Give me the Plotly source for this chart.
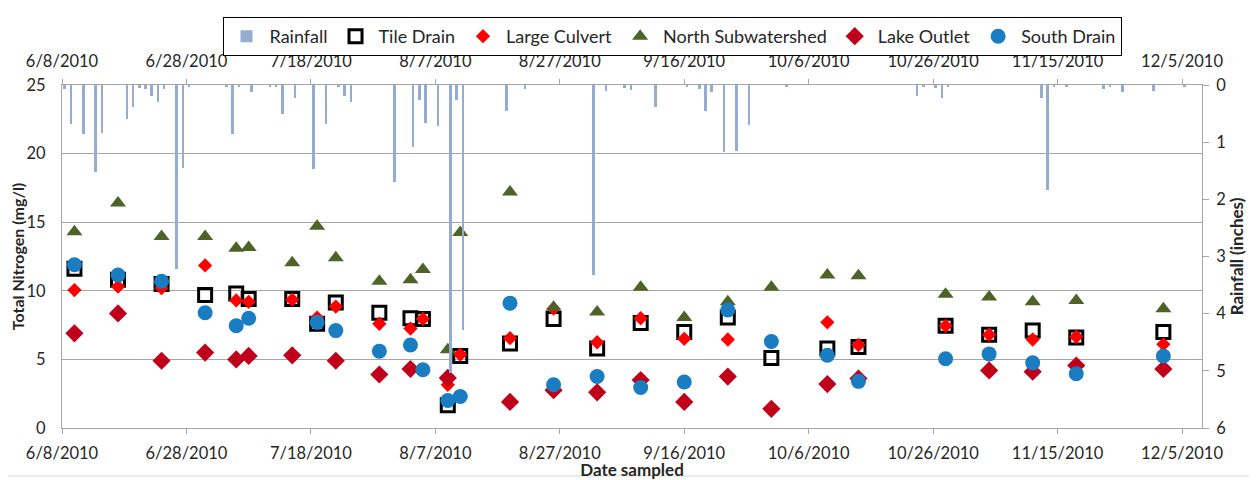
import plotly.graph_objects as go
import pandas as pd

# ---------------- data ----------------
sample_dates = ["2010-06-10", "2010-06-17", "2010-06-24", "2010-07-01", "2010-07-06",
                "2010-07-08", "2010-07-15", "2010-07-19", "2010-07-22", "2010-07-29",
                "2010-08-03", "2010-08-05", "2010-08-09", "2010-08-11", "2010-08-19",
                "2010-08-26", "2010-09-02", "2010-09-09", "2010-09-16", "2010-09-23",
                "2010-09-30", "2010-10-09", "2010-10-14", "2010-10-28", "2010-11-04",
                "2010-11-11", "2010-11-18", "2010-12-02"]

tile_drain = [11.6, 10.8, 10.5, 9.7, 9.8, 9.4, 9.4, 7.6, 9.15, 8.4, 8.0, 7.95, 1.65, 5.25,
              6.15, 7.95, 5.8, 7.65, 7.0, 8.05, 5.1, 5.8, 5.9, 7.45, 6.8, 7.1, 6.6, 7.0]
large_culvert = [10.05, 10.3, 10.2, 11.85, 9.3, 9.2, 9.35, 8.05, 8.85, 7.6, 7.25, 7.95, 3.15,
                 5.35, 6.55, 8.7, 6.25, 8.0, 6.5, 6.45, None, 7.7, 6.05, 7.45, 6.8, 6.45, 6.65, 6.1]
north_sub = [14.3, 16.4, 13.95, 13.95, 13.1, 13.15, 12.05, 14.7, 12.4, 10.7, 10.8, 11.55, 5.7,
             14.25, 17.2, 8.8, 8.45, 10.25, 8.05, 9.2, 10.25, 11.15, 11.1, 9.75, 9.55, 9.2, 9.3, 8.7]
lake_outlet = [6.9, 8.35, 4.9, 5.5, 5.0, 5.25, 5.3, None, 4.9, 3.9, 4.3, None, 3.65, None,
               1.9, 2.75, 2.6, 3.5, 1.9, 3.75, 1.4, 3.2, 3.6, None, 4.2, 4.1, 4.55, 4.3]
south_drain = [11.9, 11.15, 10.7, 8.4, 7.45, 8.0, None, 7.7, 7.1, 5.6, 6.05, 4.25, 2.0, 2.3,
               9.1, 3.15, 3.75, 2.95, 3.35, 8.6, 6.3, 5.3, 3.4, 5.05, 5.4, 4.75, 3.95, 5.25]

rain_dates = ["2010-06-08", "2010-06-09", "2010-06-11", "2010-06-13", "2010-06-14",
              "2010-06-18", "2010-06-19", "2010-06-20", "2010-06-21", "2010-06-22",
              "2010-06-23", "2010-06-24", "2010-06-26", "2010-06-27", "2010-06-28",
              "2010-07-04", "2010-07-05", "2010-07-06", "2010-07-08", "2010-07-11",
              "2010-07-12", "2010-07-13", "2010-07-15", "2010-07-18", "2010-07-20",
              "2010-07-22", "2010-07-23", "2010-07-24", "2010-07-31", "2010-08-03",
              "2010-08-04", "2010-08-05", "2010-08-07", "2010-08-09", "2010-08-10",
              "2010-08-11", "2010-08-18", "2010-08-21", "2010-09-01", "2010-09-03",
              "2010-09-06", "2010-09-07", "2010-09-11", "2010-09-16", "2010-09-18",
              "2010-09-19", "2010-09-20", "2010-09-22", "2010-09-24", "2010-09-26",
              "2010-10-02", "2010-10-23", "2010-10-24", "2010-10-26", "2010-10-27",
              "2010-10-28", "2010-11-12", "2010-11-13", "2010-11-14", "2010-11-16",
              "2010-11-22", "2010-11-23", "2010-11-25", "2010-11-30", "2010-12-05"]
rainfall = [0.07, 0.68, 0.86, 1.52, 0.84,
            0.6, 0.38, 0.05, 0.07, 0.19,
            0.3, 0.07, 3.21, 1.46, 0.03,
            0.03, 0.86, 0.04, 0.12, 0.03,
            0.03, 0.51, 0.22, 1.47, 0.68,
            0.03, 0.2, 0.29, 1.70, 1.08,
            0.26, 0.66, 0.71, 5.04, 0.26,
            4.29, 0.46, 0.07, 3.33, 0.1,
            0.05, 0.08, 0.39, 0.02, 0.07,
            0.45, 0.12, 1.17, 1.15, 0.70,
            0.02, 0.2, 0.03, 0.05, 0.23,
            0.03, 0.23, 1.83, 0.02, 0.02,
            0.07, 0.03, 0.12, 0.1, 0.02]

x_start = "2010-06-08"
x_end = "2010-12-08 05:00"

# ---------------- styling ----------------
FONT = "Lato"
GRID = "#A6A6A6"
TXT = "#262626"

# the page body has an 8px margin, so the figure is shrunk by it
PAGE_OFF = 8
W, H = 1257 - PAGE_OFF, 480 - PAGE_OFF
ML, MR, MT, MB = 62 - PAGE_OFF, 55, 85 - PAGE_OFF, 52
PW, PH = 1257 - 62 - 55, 428 - 85  # plot area size in px

fig = go.Figure()

# Excel centres a daily column in the middle of its day slot
rain_x = pd.to_datetime(rain_dates) + pd.Timedelta(hours=10)
fig.add_trace(go.Bar(
    x=rain_x, y=rainfall, name="Rainfall", xaxis="x2", yaxis="y2",
    marker=dict(color="#93ACD0", line=dict(width=0)),
    width=0.4 * 86400000,
))

fig.add_trace(go.Scatter(
    x=sample_dates, y=tile_drain, name="Tile Drain", mode="markers",
    marker=dict(symbol="square-open", size=13, color="black", line=dict(width=3, color="black")),
))
fig.add_trace(go.Scatter(
    x=sample_dates, y=large_culvert, name="Large Culvert", mode="markers",
    marker=dict(symbol="diamond", size=11, color="#FF0000", line=dict(width=0)),
))
fig.add_trace(go.Scatter(
    x=sample_dates, y=north_sub, name="North Subwatershed", mode="markers",
    marker=dict(symbol="triangle-up", size=14, color="#4F6228", line=dict(width=0)),
))
fig.add_trace(go.Scatter(
    x=sample_dates, y=lake_outlet, name="Lake Outlet", mode="markers",
    marker=dict(symbol="diamond", size=14, color="#C0001A", line=dict(width=0)),
))
fig.add_trace(go.Scatter(
    x=sample_dates, y=south_drain, name="South Drain", mode="markers",
    marker=dict(symbol="circle", size=15, color="#1A7CC1", line=dict(width=0)),
))

tick_common = dict(
    type="date", range=[x_start, x_end], tick0=x_start, dtick=20 * 86400000,
    tickformat="%-m/%-d/%Y", showline=True, linecolor=GRID, linewidth=1,
    ticks="outside", ticklen=5, tickcolor=GRID, showgrid=False, zeroline=False,
    tickfont=dict(family=FONT, size=16.5, color=TXT), ticklabelstandoff=5,
)

fig.update_layout(
    width=W, height=H,
    paper_bgcolor="white", plot_bgcolor="white",
    margin=dict(l=ML, r=MR, t=MT, b=MB, autoexpand=False),
    font=dict(family=FONT, color=TXT),
    bargap=0,
    showlegend=True,
    legend=dict(
        orientation="h", x=(672 - 62) / PW, xanchor="center", y=(428 - 17) / PH, yanchor="top",
        bordercolor="black", borderwidth=1, bgcolor="white",
        font=dict(family=FONT, size=18, color=TXT),
        itemwidth=36, tracegroupgap=0,
    ),
    xaxis=dict(
        **tick_common,
        title=dict(text="<b>Date sampled</b>", font=dict(family=FONT, size=17, color=TXT), standoff=0),
    ),
    xaxis2=dict(**tick_common, overlaying="x", side="top", anchor="y"),
    yaxis=dict(
        range=[0, 25], dtick=5, showgrid=True, gridcolor=GRID, gridwidth=1,
        showline=True, linecolor=GRID, linewidth=1, zeroline=False, ticks="",
        tickfont=dict(family=FONT, size=16.5, color=TXT), ticklabelstandoff=12,
        title=dict(text="<b>Total Nitrogen (mg/l)</b>", font=dict(family=FONT, size=16, color=TXT), standoff=1),
    ),
    yaxis2=dict(
        range=[6, 0], dtick=1, overlaying="y", side="right", anchor="x",
        showgrid=False, showline=True, linecolor=GRID, linewidth=1, zeroline=False,
        ticks="outside", ticklen=6, tickcolor=GRID,
        tickfont=dict(family=FONT, size=16.5, color=TXT), ticklabelstandoff=4,
        title=dict(text="<b>Rainfall (inches)</b>", font=dict(family=FONT, size=17, color=TXT), standoff=3),
    ),
    shapes=[dict(
        type="rect", xref="paper", yref="paper",
        x0=(6 - 62) / PW, x1=(1250 - 62) / PW,
        y0=(428 - 476) / PH, y1=(428 - 5) / PH,
        line=dict(color="#D9D9D9", width=1), fillcolor="rgba(0,0,0,0)", layer="below",
    )],
)

fig.write_html("out.html")
